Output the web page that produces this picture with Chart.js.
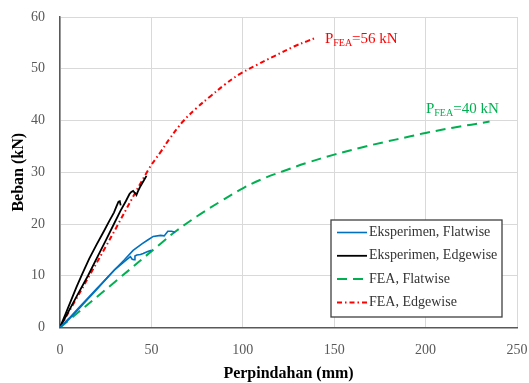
<!DOCTYPE html>
<html>
<head>
<meta charset="utf-8">
<script src="https://cdn.jsdelivr.net/npm/chart.js@4.4.1/dist/chart.umd.min.js"></script>
<style>
  html, body { margin: 0; padding: 0; background: #fff; }
  #wrap { width: 529px; height: 383px; }
</style>
</head>
<body>
<div id="wrap"><canvas id="chart" width="529" height="383"></canvas></div>
<script>
// values (x = Perpindahan mm, y = Beban kN)
const blueAx = [0, 5, 10, 15, 20, 25, 30, 35, 40, 45, 48, 51, 55, 57, 59, 61, 63];
const blueAy = [0, 1.8, 3.7, 5.6, 7.5, 9.3, 11.2, 13.0, 14.9, 16.2, 16.9, 17.6, 17.8, 17.7, 18.6, 18.6, 18.4];
const blueBx = [0, 5, 10, 15, 20, 25, 30, 35, 38.5, 39.5, 40.5, 41, 42, 44, 45.5, 48, 50];
const blueBy = [0, 1.6, 3.5, 5.4, 7.3, 9.3, 11.2, 12.7, 13.7, 13.2, 13.1, 13.8, 14.0, 14.1, 14.3, 14.7, 14.9];

const blackAx = [0, 3, 6, 9, 12, 16, 20, 24, 27, 29.5, 31, 32, 32.7, 33.2];
const blackAy = [0, 2.6, 5.2, 7.8, 10.2, 13.3, 16.0, 18.6, 20.6, 22.2, 23.5, 24.3, 24.4, 23.6];
const blackBx = [0, 3, 6, 10, 15.3, 20, 25, 29.5, 33, 36, 38, 39, 40, 41, 41.8, 42.5, 44, 46, 47.3];
const blackBy = [0, 2.0, 4.0, 6.6, 10.0, 13.3, 16.8, 20.0, 22.5, 24.4, 25.8, 26.2, 26.4, 26.0, 25.6, 26.2, 27.3, 28.5, 29.3];

const feaFlatX = [0, 30, 55, 63, 75, 88, 100, 110, 122, 135, 150, 165, 177, 190, 200, 215, 225, 235];
const feaFlatY = [0, 8.8, 16.2, 18.5, 21.5, 24.4, 26.9, 28.6, 30.2, 31.8, 33.4, 34.8, 35.8, 36.8, 37.6, 38.6, 39.2, 39.8];
const feaEdgeX = [0, 25, 48, 55, 60, 67.5, 75, 82, 90, 98, 108, 117, 128, 135, 140];
const feaEdgeY = [0, 15.6, 30.3, 33.9, 36.5, 39.9, 42.5, 44.6, 46.9, 48.9, 50.8, 52.4, 54.3, 55.3, 56.0];

const legendLabels = ['Eksperimen, Flatwise', 'Eksperimen, Edgewise', 'FEA, Flatwise', 'FEA, Edgewise'];
const peakLabels = ['56 kN', '40 kN'];
const peakAt = [[144.9, 55.0], [200.2, 41.5]];

function pts(xs, ys) {
    return xs.map((x, i) => ({x: x, y: ys[i]}));
}

const BLUE = '#0070C0';
const GREEN = '#00B050';
const RED = '#FF0000';
const serif = "'Liberation Serif', 'Times New Roman', serif";

const datasets = [
    {label: legendLabels[0], data: pts(blueAx, blueAy), borderColor: BLUE, borderWidth: 1.6},
    {label: legendLabels[0], data: pts(blueBx, blueBy), borderColor: BLUE, borderWidth: 1.6},
    {label: legendLabels[1], data: pts(blackAx, blackAy), borderColor: '#000', borderWidth: 1.8},
    {label: legendLabels[1], data: pts(blackBx, blackBy), borderColor: '#000', borderWidth: 1.8},
    {label: legendLabels[2], data: pts(feaFlatX, feaFlatY), borderColor: GREEN, borderWidth: 2, borderDash: [10, 6], tension: 0.4},
    {label: legendLabels[3], data: pts(feaEdgeX, feaEdgeY), borderColor: RED, borderWidth: 2, borderDash: [5, 3, 1.5, 3], tension: 0.4}
];
datasets.forEach(d => { d.pointRadius = 0; d.fill = false; });

// legend box inside the plot, bottom right
const boxLegend = {
    id: 'boxLegend',
    afterDraw(chart) {
        const ctx = chart.ctx;
        const left = 331, top = 220, w = 171, h = 97;
        ctx.save();
        ctx.fillStyle = '#fff';
        ctx.fillRect(left, top, w, h);
        ctx.strokeStyle = '#404040';
        ctx.lineWidth = 1.3;
        ctx.strokeRect(left, top, w, h);
        const items = [0, 2, 4, 5];
        items.forEach((di, i) => {
            const ds = chart.data.datasets[di];
            const y = top + 12.5 + i * 23.3;
            ctx.strokeStyle = ds.borderColor;
            ctx.lineWidth = ds.borderWidth;
            ctx.setLineDash(ds.borderDash || []);
            ctx.beginPath();
            ctx.moveTo(left + 6, y);
            ctx.lineTo(left + 36, y);
            ctx.stroke();
            ctx.setLineDash([]);
            ctx.fillStyle = '#333';
            ctx.font = '14px ' + serif;
            ctx.textBaseline = 'middle';
            ctx.fillText(ds.label, left + 38, y);
        });
        ctx.restore();
    }
};

// P_FEA labels next to the FEA curves
const peakNotes = {
    id: 'peakNotes',
    afterDatasetsDraw(chart) {
        const ctx = chart.ctx;
        const xs = chart.scales.x, ys = chart.scales.y;
        const colors = [RED, GREEN];
        ctx.save();
        ctx.textBaseline = 'alphabetic';
        peakAt.forEach((p, i) => {
            let px = xs.getPixelForValue(p[0]);
            const py = ys.getPixelForValue(p[1]);
            ctx.fillStyle = colors[i];
            ctx.font = '15px ' + serif;
            ctx.fillText('P', px, py);
            px += ctx.measureText('P').width;
            ctx.font = '10px ' + serif;
            ctx.fillText('FEA', px, py + 3);
            px += ctx.measureText('FEA').width;
            ctx.font = '15px ' + serif;
            ctx.fillText('=' + peakLabels[i], px, py);
        });
        ctx.restore();
    }
};

new Chart(document.getElementById('chart'), {
    type: 'line',
    data: {datasets: datasets},
    options: {
        responsive: false,
        animation: false,
        layout: {padding: {top: 17, right: 12, left: 0, bottom: 0}},
        plugins: {
            legend: {display: false},
            tooltip: {enabled: false}
        },
        scales: {
            x: {
                type: 'linear',
                min: 0,
                max: 250,
                ticks: {stepSize: 50, padding: 14, color: '#595959', font: {family: serif, size: 14}},
                grid: {color: '#d9d9d9', drawTicks: false},
                border: {color: '#595959', width: 1.5},
                title: {display: true, text: 'Perpindahan (mm)', color: '#000', font: {family: serif, size: 16, weight: 'bold'}, padding: 0},
                afterFit(scale) {
                    scale.height = 55.5;
                    scale.paddingLeft = 0;
                    scale.paddingRight = 0;
                }
            },
            y: {
                min: 0,
                max: 60,
                ticks: {stepSize: 10, padding: 15, color: '#595959', font: {family: serif, size: 14}},
                grid: {color: '#d9d9d9', drawTicks: false},
                border: {color: '#595959', width: 1.5},
                title: {display: true, text: 'Beban (kN)', color: '#000', font: {family: serif, size: 16, weight: 'bold'}, padding: {top: 9, bottom: 0}},
                afterFit(scale) {
                    scale.width = 60;
                    scale.paddingTop = 0;
                    scale.paddingBottom = 0;
                }
            }
        }
    },
    plugins: [peakNotes, boxLegend]
});
</script>
</body>
</html>
